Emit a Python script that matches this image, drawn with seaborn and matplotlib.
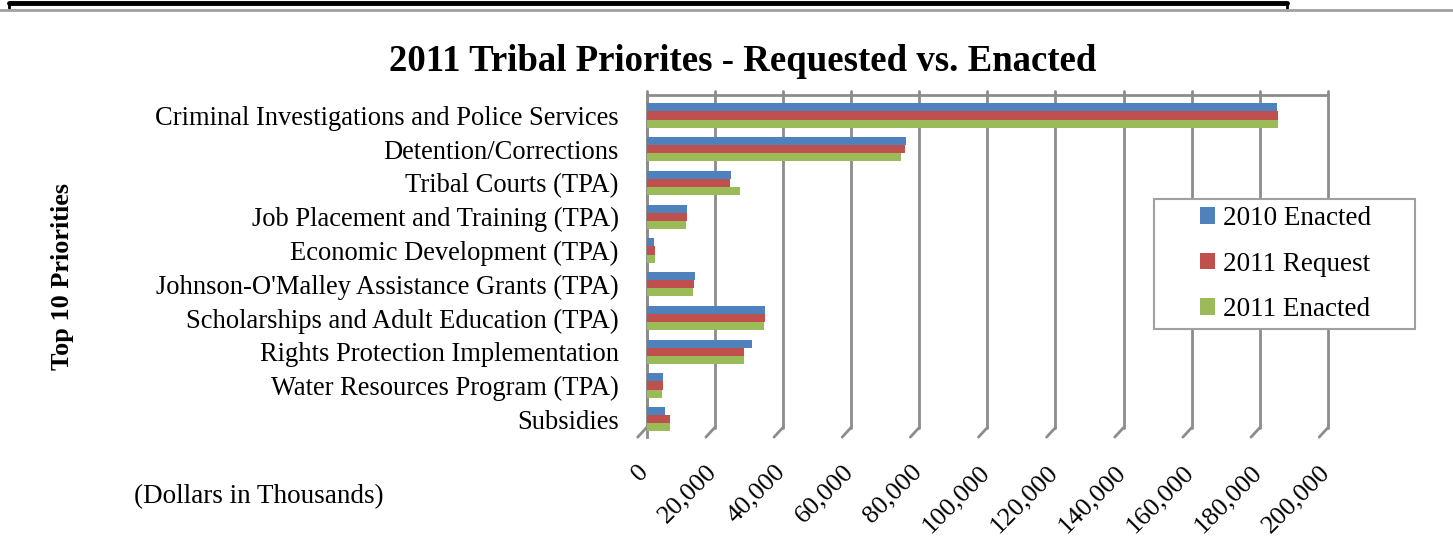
import pandas as pd
import matplotlib.pyplot as plt
import seaborn as sns
from matplotlib.lines import Line2D
from matplotlib.patches import Patch, Rectangle
from matplotlib.transforms import ScaledTranslation

# ----- data (dollars in thousands) ----- #
categories = [
    "Criminal Investigations and Police Services",
    "Detention/Corrections",
    "Tribal Courts (TPA)",
    "Job Placement and Training (TPA)",
    "Economic Development (TPA)",
    "Johnson-O'Malley Assistance Grants (TPA)",
    "Scholarships and Adult Education (TPA)",
    "Rights Protection Implementation",
    "Water Resources Program (TPA)",
    "Subsidies",
]
series_names = ["2010 Enacted", "2011 Request", "2011 Enacted"]
enacted_2010 = [185000, 76000, 24900, 12000, 2300, 14100, 34900, 30800, 4700, 5300]
request_2011 = [185300, 75700, 24600, 12000, 2600, 13800, 34900, 28700, 4700, 7000]
enacted_2011 = [185300, 74800, 27300, 11700, 2600, 13500, 34600, 28700, 4400, 7000]
x_ticks = list(range(0, 200001, 20000))
colors = ["#4F81BD", "#C0504D", "#9BBB59"]

df = pd.DataFrame({"Priority": categories,
                   series_names[0]: enacted_2010,
                   series_names[1]: request_2011,
                   series_names[2]: enacted_2011})
df = df.melt(id_vars="Priority", var_name="Series", value_name="Amount")

# ----- style ----- #
sns.set_theme(style="white")
plt.rcParams["font.family"] = ["Liberation Serif", "DejaVu Serif"]
plt.rcParams["text.color"] = "black"
plt.rcParams["xtick.color"] = "black"
plt.rcParams["ytick.color"] = "black"
grid_col = "#8c8c8c"

fig = plt.figure(figsize=(14.53, 5.41), dpi=100)
ax = fig.add_axes([0.445, 0.192, 0.469, 0.632])

sns.barplot(data=df, y="Priority", x="Amount", hue="Series", orient="h",
            palette=colors, width=0.72, ax=ax, legend=False,
            edgecolor="none", linewidth=0, saturation=1, zorder=3)

ax.set_xlim(0, 200000)
ax.set_ylim(9.53, -0.6)
ax.set_xticks(x_ticks)
ax.set_xticklabels([f"{t:,}" for t in x_ticks], rotation=45, ha="right",
                   va="top", rotation_mode="anchor", fontsize=19)
ax.tick_params(axis="x", length=0, pad=17)
ax.tick_params(axis="y", length=0, pad=20, labelsize=19.1)
shift = ScaledTranslation(-9 / 100, 0, fig.dpi_scale_trans)
for lab in ax.get_xticklabels():
    lab.set_transform(lab.get_transform() + shift)
ax.set_xlabel("")
ax.set_ylabel("")

# gridlines of the "3d" back wall, with slanted floor ticks
tr = ax.get_xaxis_transform()
for t in x_ticks:
    ax.plot([t, t], [0.028, 1.012], color=grid_col, lw=2, transform=tr,
            zorder=1, clip_on=False)
    ax.plot([t, t - 2600], [0.028, 0.0], color=grid_col, lw=2, transform=tr,
            zorder=1, clip_on=False)
for s in ["right", "bottom"]:
    ax.spines[s].set_visible(False)
ax.spines["top"].set_color(grid_col)
ax.spines["top"].set_linewidth(2)
ax.spines["left"].set_color(grid_col)
ax.spines["left"].set_linewidth(2)

fig.text(0.511, 0.887, "2011 Tribal Priorites - Requested vs. Enacted",
         ha="center", va="center", fontsize=26.5, fontweight="bold")
fig.text(0.043, 0.489, "Top 10 Priorities", rotation=90, ha="center",
         va="center", fontsize=18.9, fontweight="bold")
fig.text(0.092, 0.082, "(Dollars in Thousands)", ha="left", va="center",
         fontsize=19.5)

# legend box
fig.add_artist(Rectangle((0.7943, 0.3919), 0.1796, 0.2403,
                         transform=fig.transFigure, facecolor="white",
                         edgecolor="#a0a0a0", linewidth=1.5, zorder=4))
handles = [Patch(facecolor=c, edgecolor="none") for c in colors]
leg = fig.legend(handles, series_names, loc="center",
                 bbox_to_anchor=(0.8846, 0.512), fontsize=19.5,
                 frameon=False, handlelength=0.55, handleheight=0.55,
                 handletextpad=0.3, labelspacing=0.76, borderaxespad=0)
leg.set_zorder(5)

# page rules above the chart
fig.add_artist(Line2D([0.006, 0.886], [0.995, 0.995], color="black", lw=3.5))
fig.add_artist(Line2D([0.006, 0.006], [0.995, 0.985], color="black", lw=2))
fig.add_artist(Line2D([0.886, 0.886], [0.995, 0.985], color="black", lw=2))
fig.add_artist(Line2D([0.0, 1.0], [0.981, 0.981], color="#a0a0a0", lw=2))

fig.savefig("out.png", dpi=100)
